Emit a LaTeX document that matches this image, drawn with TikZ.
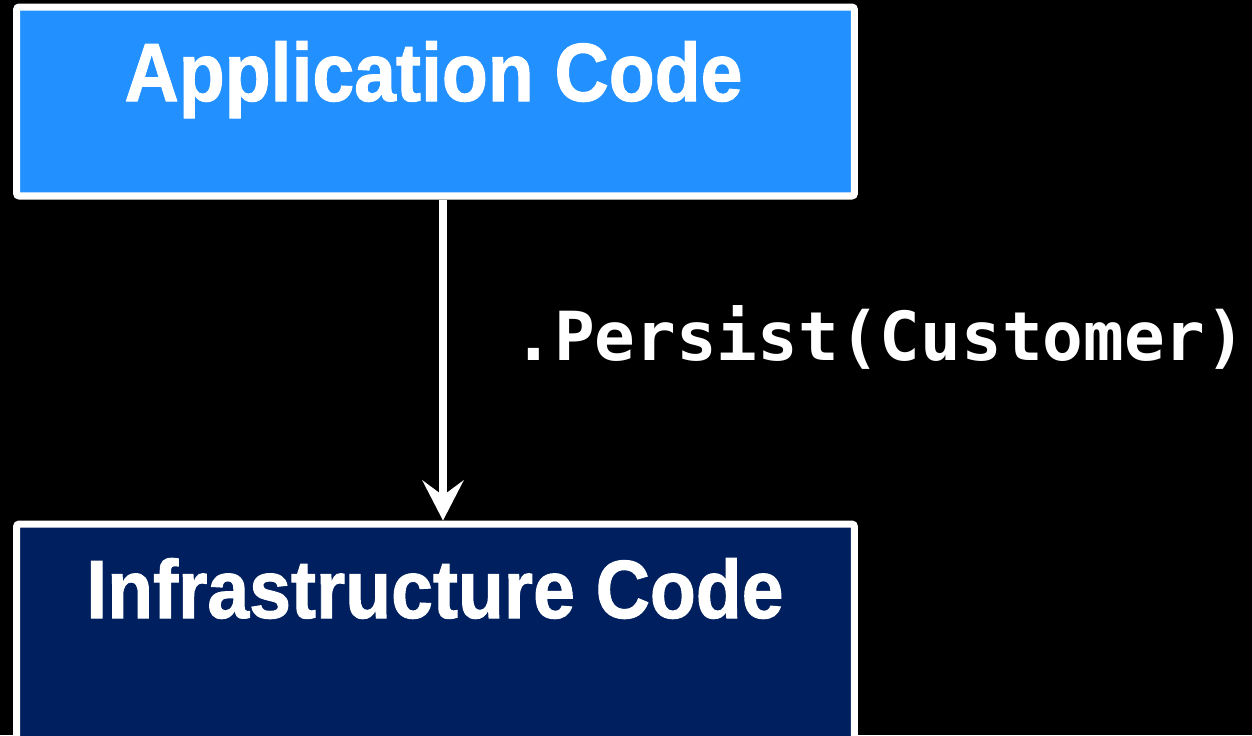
\documentclass[tikz,border=0pt]{standalone}
\usepackage{fontspec}
\usetikzlibrary{arrows.meta,positioning}
\newfontfamily\boxfont{Liberation Sans}[FakeStretch=0.91, FakeBold=1.2]
\newfontfamily\callfont{DejaVu Sans Mono}
\definecolor{appblue}{HTML}{2291FF}
\definecolor{infranavy}{HTML}{001F5E}
\tikzset{
  layerbox/.style={draw=white, line width=4pt, rounded corners=1.5pt, inner sep=0pt},
  layertext/.style={text=white, font=\boxfont\bfseries\fontsize{47}{50}\selectfont, anchor=base, inner sep=0pt},
  calltext/.style={text=white, font=\callfont\bfseries\fontsize{38.5}{40}\selectfont, anchor=west, inner sep=0pt},
  callarrow/.style={draw=white, line width=4.6pt, -{Stealth[length=0.8cm, width=0.82cm, inset=0.3cm]}}
}
\begin{document}
\begin{tikzpicture}[x=0.02cm, y=-0.02cm]
      \fill[black] (0,0) rectangle (1252,735);
      \useasboundingbox (0,0) rectangle (1252,735);
      \clip (0,0) rectangle (1252,735);
      \node[layerbox, fill=appblue, minimum width=16.76cm, minimum height=3.78cm] (app) at (435.5,101.5) {};
      \node[layerbox, fill=infranavy, minimum width=16.76cm, minimum height=5.52cm] (infra) at (435.5,662) {};
      \node[layertext] (applabel) at (433.5,101) {Application Code};
      \node[layertext] (infralabel) at (435,618) {Infrastructure Code};
      \draw[callarrow] ([xshift=0.15cm]app.south) -- ([xshift=0.15cm]infra.north);
      \node[calltext] (call) at (513,337) {.Persist(Customer)};
    \end{tikzpicture}
\end{document}
